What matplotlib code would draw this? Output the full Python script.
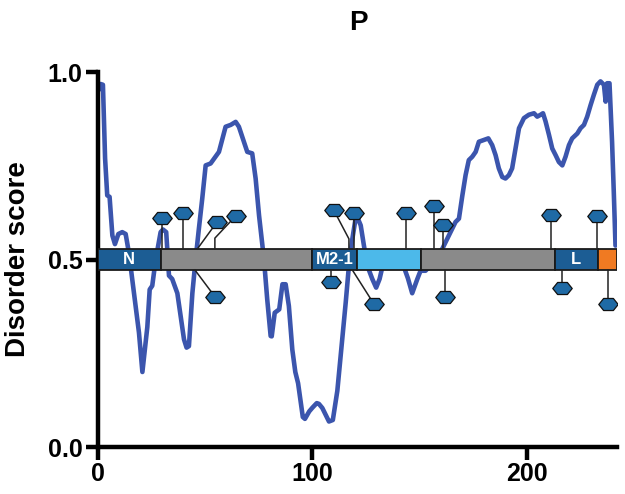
import matplotlib
matplotlib.use("Agg")
import matplotlib.pyplot as plt
from matplotlib.path import Path
from matplotlib.patches import Rectangle

plt.rcParams['font.family'] = ['Liberation Sans', 'DejaVu Sans']

# ---- data ----
residue = [0.5, 1.2, 2.3, 3.3, 4.3, 5.4, 6.7, 7.9, 9.5, 11.3, 12.9, 14.1, 14.8, 16.8, 19.1, 20.7,
           23.0, 24.1, 25.3, 26.9, 29.2, 30.3, 31.8, 33.1, 34.6, 37.0, 40.1, 41.3, 42.4, 44.0,
           45.5, 47.0, 48.6, 50.2, 52.5, 56.4, 59.5, 61.9, 64.2, 65.7, 68.0, 69.6, 71.9, 73.5,
           75.1, 77.4, 78.9, 80.5, 81.0, 82.4, 84.5, 86.0, 87.5, 89.0, 90.6, 92.0, 93.3, 94.5,
           95.5, 96.5, 98.5, 100.0, 102.0, 103.0, 104.6, 107.7, 109.5, 111.6, 113.9, 115.5,
           117.0, 118.6, 120.1, 120.9, 122.5, 124.0, 125.6, 127.9, 129.7, 131.3, 133.0, 136.0,
           139.0, 142.0, 144.5, 146.5, 148.9, 150.4, 152.7, 156.0, 160.5, 164.4, 166.7, 168.3,
           169.9, 171.4, 172.9, 174.5, 176.1, 177.6, 180.0, 182.0, 183.8, 185.4, 186.9, 188.5,
           190.0, 191.6, 193.1, 194.7, 196.3, 198.6, 200.9, 203.3, 204.8, 206.4, 207.5, 208.7,
           210.3, 211.8, 213.4, 214.9, 216.5, 218.0, 219.6, 221.1, 223.5, 225.0, 226.6, 228.1,
           229.7, 231.2, 232.8, 234.3, 235.9, 236.7, 237.4, 238.5, 239.0, 239.7, 240.5, 241.3]
disorder = [0.953, 0.968, 0.966, 0.77, 0.671, 0.667, 0.564, 0.541, 0.568, 0.573, 0.568, 0.528, 0.50, 0.41, 0.305, 0.20,
            0.32, 0.42, 0.43, 0.50, 0.573, 0.58, 0.573, 0.457, 0.448, 0.41, 0.287, 0.265, 0.269, 0.41,
            0.50, 0.58, 0.662, 0.751, 0.756, 0.787, 0.854, 0.859, 0.867, 0.854, 0.814, 0.787, 0.783, 0.716,
            0.617, 0.50, 0.394, 0.296, 0.295, 0.358, 0.367, 0.434, 0.434, 0.376, 0.26, 0.20, 0.17, 0.12,
            0.08, 0.075, 0.095, 0.105, 0.117, 0.115, 0.104, 0.068, 0.072, 0.15, 0.287, 0.385,
            0.483, 0.555, 0.609, 0.613, 0.591, 0.537, 0.483, 0.448, 0.425, 0.448, 0.49, 0.50,
            0.48, 0.49, 0.45, 0.41, 0.448, 0.47, 0.47, 0.49, 0.528, 0.573, 0.60, 0.609,
            0.671, 0.725, 0.765, 0.774, 0.787, 0.814, 0.819, 0.823, 0.805, 0.778, 0.743, 0.72,
            0.716, 0.725, 0.743, 0.796, 0.85, 0.877, 0.886, 0.89, 0.881, 0.886, 0.89, 0.868,
            0.832, 0.796, 0.778, 0.76, 0.751, 0.774, 0.805, 0.823, 0.836, 0.85, 0.859, 0.881,
            0.912, 0.939, 0.966, 0.975, 0.966, 0.921, 0.97, 0.97, 0.903, 0.814, 0.68, 0.537]

domain_start = [0, 29.2, 100, 120.7, 150.4, 213, 233.2]
domain_end = [29.2, 100, 120.7, 150.4, 213, 233.2, 242]
domain_color = ['#1c5d94', '#8a8a8a', '#1c5d94', '#4cb9ea', '#8a8a8a', '#1c5d94', '#f07a22']
domain_label = ['N', '', 'M2-1', '', '', 'L', '']

# phosphorylation-site stems (x along bar, polyline to hexagon)
up_stem_x = [[30, 30], [39.8, 39.8], [46.3, 55.6], [54.5, 54.5, 64.2], [117, 117, 110],
             [119.3, 119.3], [143.7, 143.7], [156.6, 156.6], [160.8, 160.8], [211, 211], [232.8, 232.8]]
up_stem_y = [[0.528, 0.61], [0.528, 0.625], [0.528, 0.601], [0.528, 0.557, 0.616], [0.528, 0.555, 0.631],
             [0.528, 0.624], [0.528, 0.624], [0.528, 0.644], [0.528, 0.592], [0.528, 0.619], [0.528, 0.616]]
down_stem_x = [[45.2, 54.5], [108.5, 108.5], [118.6, 128.7], [161.6, 161.6], [216.2, 216.2], [237.9, 237.9]]
down_stem_y = [[0.472, 0.401], [0.472, 0.439], [0.472, 0.381], [0.472, 0.40], [0.472, 0.424], [0.472, 0.381]]

x_ticks = [0, 100, 200]
y_ticks = [0.0, 0.5, 1.0]
y_ticklabels = ['0.0', '0.5', '1.0']

# ---- figure ----
fig = plt.figure(figsize=(6.25, 4.94), dpi=100)
ax = fig.add_axes([98/625, 47/494, 519/625, 375/494])

ax.plot(residue, disorder, color='#3b55ad', lw=3.3, solid_joinstyle='round',
        solid_capstyle='round', zorder=2)

bar_lo, bar_hi = 0.472, 0.528
for s, e, c, lab in zip(domain_start, domain_end, domain_color, domain_label):
    ax.add_patch(Rectangle((s, bar_lo), e - s, bar_hi - bar_lo, facecolor=c,
                           edgecolor='#1a1a1a', lw=1.3, zorder=4))
    if lab:
        ax.text((s + e) / 2, 0.5, lab, color='white', fontsize=12, fontweight='bold',
                ha='center', va='center', zorder=5)

hexv = [(-1, 0), (-0.5, 0.62), (0.5, 0.62), (1, 0), (0.5, -0.62), (-0.5, -0.62), (-1, 0)]
hexpath = Path(hexv, [Path.MOVETO] + [Path.LINETO] * 5 + [Path.CLOSEPOLY])

for xs, ys in zip(up_stem_x + down_stem_x, up_stem_y + down_stem_y):
    ax.plot(xs, ys, color='#222222', lw=1.1, zorder=5)
    ax.plot([xs[-1]], [ys[-1]], marker=hexpath, markersize=14, markerfacecolor='#1f6aa5',
            markeredgecolor='#111111', markeredgewidth=0.9, zorder=6)

ax.set_xlim(0, 242)
ax.set_ylim(0, 1)
ax.set_xticks(x_ticks)
ax.set_yticks(y_ticks)
ax.set_yticklabels(y_ticklabels)
for sp in ['top', 'right']:
    ax.spines[sp].set_visible(False)
for sp in ['left', 'bottom']:
    ax.spines[sp].set_linewidth(3.2)
ax.tick_params(axis='both', width=3.2, length=9, labelsize=18, pad=2)
for t in ax.get_xticklabels() + ax.get_yticklabels():
    t.set_fontweight('bold')
ax.set_ylabel('Disorder score', fontsize=20, fontweight='bold', labelpad=12)
fig.text(358/625, 1 - 23/494, 'P', ha='center', va='center', fontsize=20, weight='bold')

fig.savefig('out.png', dpi=100)
